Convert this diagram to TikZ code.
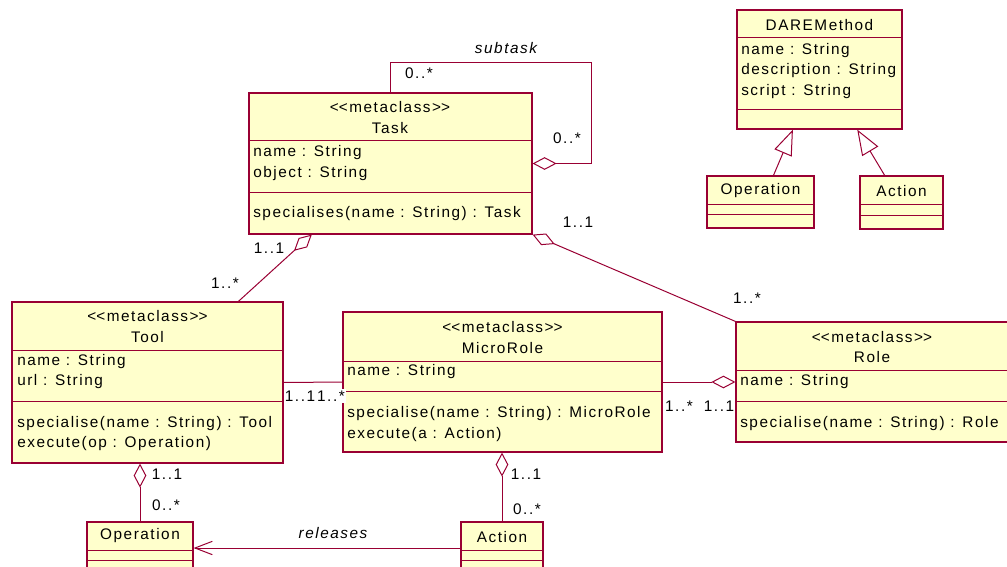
\documentclass[tikz,border=0pt]{standalone}
\usepackage{fontspec}
\setmainfont[LetterSpace=10]{Liberation Sans}
\usetikzlibrary{arrows.meta, positioning, fit, calc}
\definecolor{roseline}{RGB}{153,0,51}
\definecolor{rosefill}{RGB}{255,255,204}

\begin{document}
\begin{tikzpicture}[x=0.75pt, y=-0.75pt, font=\fontsize{11.5}{15.5}\selectfont,
    cls/.style={draw=roseline, fill=rosefill, line width=0.9pt, inner sep=0pt},
    sepline/.style={draw=roseline, line width=0.75pt},
    hdr/.style={align=center, inner sep=0pt},
    txt/.style={align=left, anchor=west, inner sep=0pt},
    mult/.style={inner sep=1pt, fill=white},
    assoc/.style={draw=roseline, line width=0.75pt},
    agg/.style={assoc, -{Diamond[open, length=18pt, width=9.5pt]}},
    gen/.style={assoc, -{Triangle[open, length=19pt, width=14pt]}},
    nav/.style={assoc, -{Straight Barb[length=13pt, width=10pt]}}]
  \useasboundingbox (0,0) rectangle (1007,567);
  \clip (0,0) rectangle (1007,567);
  % ---- class boxes ----
  \node[cls, fit={(249,93) (532,234)}]   (task)   {};
  \node[cls, fit={(737,10) (902,129)}]   (dare)   {};
  \node[cls, fit={(707,176) (814,228)}]  (operdm) {};
  \node[cls, fit={(860,176) (943,229)}]  (actdm)  {};
  \node[cls, fit={(12,302) (283,463)}]   (tool)   {};
  \node[cls, fit={(343,312) (662,452)}]  (micro)  {};
  \node[cls, fit={(736,322) (1008,442)}] (role)   {};
  \node[cls, fit={(87,522) (193,574)}]   (oper)   {};
  \node[cls, fit={(461,522) (543,574)}]  (act)    {};
  \foreach \cl/\ya/\yb in {task/140/192, dare/38/110, operdm/204/214, actdm/204/215,
      tool/350/401, micro/361/391, role/370/401, oper/550/560, act/550/560}
    \draw[sepline] (\cl.west |- 0,\ya) -- (\cl.east |- 0,\ya)
                   (\cl.west |- 0,\yb) -- (\cl.east |- 0,\yb);
  % ---- class texts ----
  \node[hdr] (taskh) at (390,117.5) {<\kern0pt<metaclass>\kern0pt>\\Task};
  \node[txt] (taska) at (253,163) {name : String\\object : String};
  \node[txt] (tasko) at (253,214) {specialises(name : String) : Task};
  \node[hdr] (dareh) at (819.5,25) {DAREMethod};
  \node[txt] (darea) at (741,71) {name : String\\description : String\\script : String};
  \node[hdr] (operdmh) at (760.5,191) {Operation};
  \node[hdr] (actdmh)  at (901.5,191) {Action};
  \node[hdr] (toolh) at (147.5,326.5) {<\kern0pt<metaclass>\kern0pt>\\Tool};
  \node[txt] (toola) at (17,371.5) {name : String\\url : String};
  \node[txt] (toolo) at (17,433.5) {specialise(name : String) : Tool\\execute(op : Operation)};
  \node[hdr] (microh) at (502.5,337.5) {<\kern0pt<metaclass>\kern0pt>\\MicroRole};
  \node[txt] (microa) at (347,372) {name : String};
  \node[txt] (microo) at (347,424) {specialise(name : String) : MicroRole\\execute(a : Action)};
  \node[hdr] (roleh) at (872,347) {<\kern0pt<metaclass>\kern0pt>\\Role};
  \node[txt] (rolea) at (740,382) {name : String};
  \node[txt] (roleo) at (740,424) {specialise(name : String) : Role};
  \node[hdr] (operh) at (140,536) {Operation};
  \node[hdr] (acth)  at (502,537) {Action};
  % ---- connectors ----
  \coordinate (loopc) at (591,63);
  \draw[agg] (task.north) |- (loopc) |- (task.east);
  \draw[agg] ($(tool.north west)!0.834!(tool.north east)$) -- ($(task.south west)!0.223!(task.south east)$);
  \draw[agg] (role.north west) -- (task.south east);
  \draw[assoc] (tool.east) -- (micro.west);
  \draw[agg] (micro.east) -- (role.west);
  \draw[agg] (oper.north) -- (oper.north |- tool.south);
  \draw[agg] (act.north) -- (act.north |- micro.south);
  \draw[nav] (act.west) -- (oper.east);
  \draw[gen] ($(operdm.north west)!0.62!(operdm.north east)$) -- ($(dare.south west)!0.34!(dare.south east)$);
  \draw[gen] ($(actdm.north west)!0.3!(actdm.north east)$) -- ($(dare.south west)!0.727!(dare.south east)$);
  % ---- labels ----
  \node (subtask) at (506,48) {\itshape subtask};
  \node (releases) at (333,533) {\itshape releases};
  \node[mult] (m1)  at (419,73)  {0..*};
  \node[mult] (m2)  at (567,138) {0..*};
  \node[mult] (m3)  at (269,248) {1..1};
  \node[mult] (m4)  at (225,283) {1..*};
  \node[mult] (m5)  at (578,222) {1..1};
  \node[mult] (m6)  at (747,298) {1..*};
  \node[mult] (m7)  at (300,396) {1..1};
  \node[mult] (m8)  at (331,396) {1..*};
  \node[mult] (m9)  at (679,406) {1..*};
  \node[mult] (m10) at (719,406) {1..1};
  \node[mult] (m11) at (167,474) {1..1};
  \node[mult] (m12) at (166,505) {0..*};
  \node[mult] (m13) at (526,474) {1..1};
  \node[mult] (m14) at (527,509) {0..*};
\end{tikzpicture}
\end{document}
